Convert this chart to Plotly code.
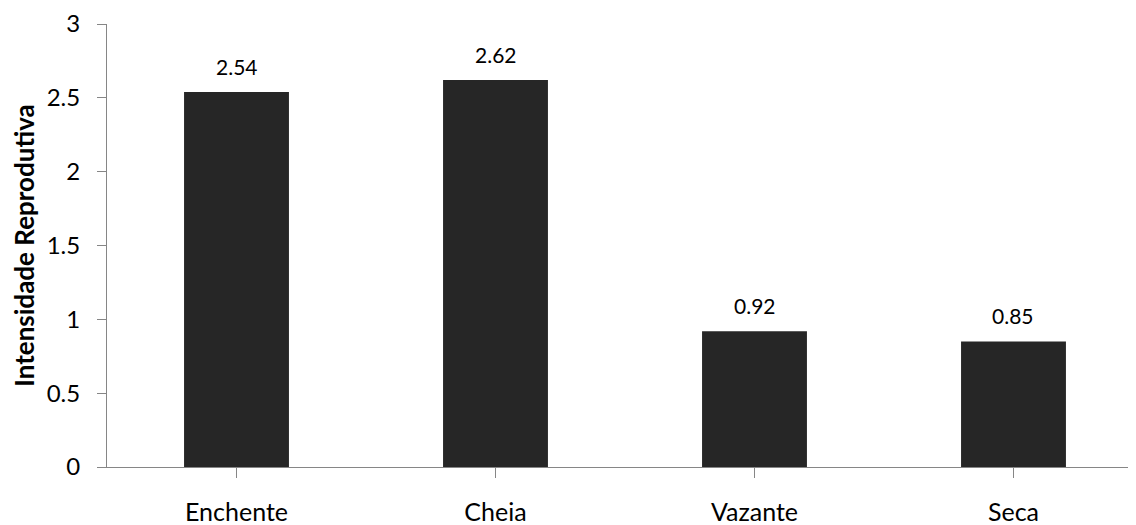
import plotly.graph_objects as go

categories = ["Enchente", "Cheia", "Vazante", "Seca"]
values = [2.54, 2.62, 0.92, 0.85]
value_labels = ["2.54", "2.62", "0.92", "0.85"]
y_ticks = [0, 0.5, 1, 1.5, 2, 2.5, 3]
y_tick_text = ["0", "0.5", "1", "1.5", "2", "2.5", "3"]

FONT = "Lato, 'Open Sans', sans-serif"
AXIS = "#868686"

fig = go.Figure()
fig.add_trace(go.Bar(
    x=list(range(len(categories))), y=values,
    marker=dict(color="#262626", line=dict(width=0)),
    width=0.405,
    hoverinfo="skip",
))

for i, (v, t) in enumerate(zip(values, value_labels)):
    fig.add_annotation(x=i, y=v, text=t, showarrow=False,
                       yanchor="bottom", yshift=11,
                       font=dict(family=FONT, size=21, color="#000000"))

# page body adds an 8px offset; figure sized to fill the rest of the window
fig.update_layout(
    width=1128, height=517,
    margin=dict(l=99, r=0, t=16, b=58),
    paper_bgcolor="white", plot_bgcolor="white",
    showlegend=False,
    font=dict(family=FONT, color="#000000"),
)
fig.update_xaxes(
    automargin=False,
    range=[-0.5, 3.473],
    tickmode="array", tickvals=list(range(len(categories))), ticktext=categories,
    tickson="boundaries", ticks="outside", ticklen=10, tickcolor=AXIS, tickwidth=1,
    showline=True, linecolor=AXIS, linewidth=1,
    showgrid=False, zeroline=False,
    tickfont=dict(family=FONT, size=25, color="#000000"),
    ticklabelstandoff=13,
)
fig.update_yaxes(
    automargin=False,
    range=[0, 3],
    tickmode="array", tickvals=y_ticks, ticktext=y_tick_text,
    ticks="outside", ticklen=9, tickcolor=AXIS, tickwidth=1,
    showline=True, linecolor=AXIS, linewidth=1,
    showgrid=False, zeroline=False,
    tickfont=dict(family=FONT, size=24, color="#000000"),
    ticklabelstandoff=12,
    title=dict(text="<b>Intensidade Reprodutiva</b>", standoff=12,
               font=dict(family=FONT, size=26, color="#000000")),
)

fig.write_html("out.html")
